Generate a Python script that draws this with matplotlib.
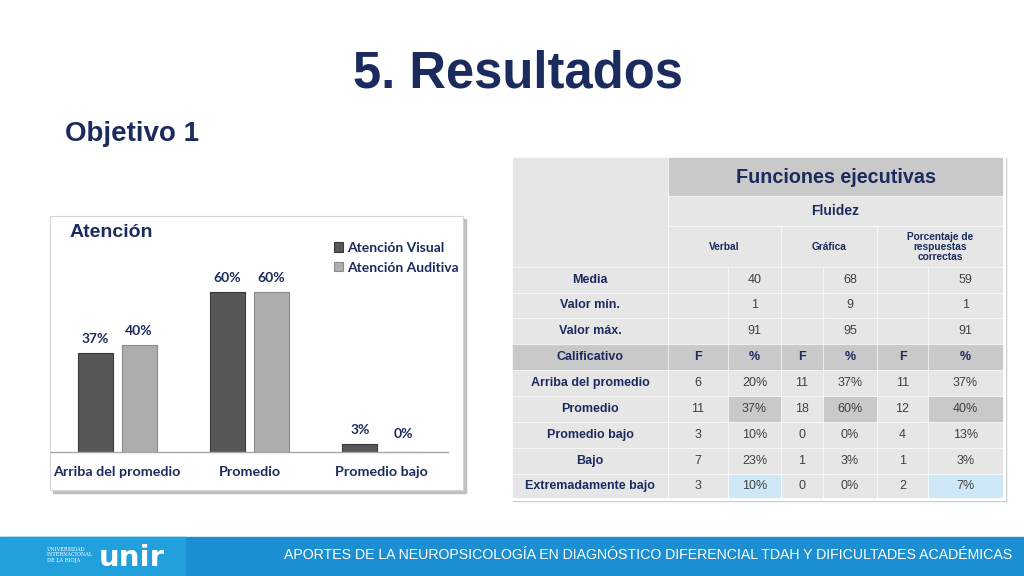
import matplotlib.pyplot as plt
from matplotlib.patches import Rectangle

# datos del grafico de barras
categorias = ["Arriba del promedio", "Promedio", "Promedio bajo"]
series = ["Atención Visual", "Atención Auditiva"]
visual = [37, 60, 3]
auditiva = [40, 60, 0]

# datos de la tabla
filas = ["Media", "Valor mín.", "Valor máx.", "Calificativo", "Arriba del promedio",
         "Promedio", "Promedio bajo", "Bajo", "Extremadamente bajo"]
media = ["", "40", "", "68", "", "59"]
valor_min = ["", "1", "", "9", "", "1"]
valor_max = ["", "91", "", "95", "", "91"]
calificativo = ["F", "%", "F", "%", "F", "%"]
arriba = ["6", "20%", "11", "37%", "11", "37%"]
promedio = ["11", "37%", "18", "60%", "12", "40%"]
promedio_bajo = ["3", "10%", "0", "0%", "4", "13%"]
bajo = ["7", "23%", "1", "3%", "1", "3%"]
extrem_bajo = ["3", "10%", "0", "0%", "2", "7%"]
subpruebas = ["Verbal", "Gráfica", "Porcentaje de\nrespuestas\ncorrectas"]

navy = "#1c2b5e"
oscuro = "#575757"
claro = "#adadad"

fig = plt.figure(figsize=(10.24, 5.76), dpi=100)
fig.patch.set_facecolor("white")

# capa de fondo en pixeles
bg = fig.add_axes([0, 0, 1, 1])
bg.set_xlim(0, 1024)
bg.set_ylim(576, 0)
bg.axis("off")

bg.text(353, 88, "5. Resultados", fontsize=36.5, fontweight="bold", color=navy,
        family="Liberation Sans", va="baseline", ha="left")
bg.text(65, 141, "Objetivo 1", fontsize=20, fontweight="bold", color=navy,
        family="Liberation Sans", va="baseline", ha="left")

# panel del grafico
bg.add_patch(Rectangle((53, 219), 413, 274, color="#bfbfbf", zorder=1))
bg.add_patch(Rectangle((50, 216), 413, 274, facecolor="white", edgecolor="#d4d4d4",
                       lw=0.8, zorder=2))
bg.text(70, 237, "Atención", fontsize=14, fontweight="bold", color=navy,
        family="Liberation Sans", va="baseline", zorder=3)

# tabla
col_x = [512, 668, 728, 781, 823, 877, 928, 1003]
row_y = [157, 196, 226, 267, 293, 318, 344, 370, 396, 422, 448, 474, 498]
base = "#e6e6e6"
gris = "#c9c9c9"
azul = "#cfe8f8"

bg.add_patch(Rectangle((513, 158), 493, 343, color="#c4c4c4", zorder=1))
bg.add_patch(Rectangle((510, 155), 495, 345, color="white", zorder=2))


def celda(x0, x1, y0, y1, color):
    bg.add_patch(Rectangle((x0 + 1, y0 + 1), x1 - x0 - 2, y1 - y0 - 2,
                           color=color, zorder=3))


def texto(x, y, s, size=9, bold=False, color=navy):
    bg.text(x, y, s, fontsize=size, fontweight="bold" if bold else "normal",
            color=color, family="Liberation Sans", ha="center", va="center",
            zorder=4, linespacing=1.0)


celda(col_x[0], col_x[1], row_y[0], row_y[3], base)
celda(col_x[1], col_x[7], row_y[0], row_y[1], gris)
texto((col_x[1] + col_x[7]) / 2, (row_y[0] + row_y[1]) / 2 + 1,
      "Funciones ejecutivas", size=14.2, bold=True)
celda(col_x[1], col_x[7], row_y[1], row_y[2], base)
texto((col_x[1] + col_x[7]) / 2, (row_y[1] + row_y[2]) / 2,
      "Fluidez", size=10, bold=True)
for k, nombre in enumerate(subpruebas):
    x0, x1 = col_x[1 + 2 * k], col_x[3 + 2 * k]
    celda(x0, x1, row_y[2], row_y[3], base)
    texto((x0 + x1) / 2, (row_y[2] + row_y[3]) / 2, nombre, size=7.3, bold=True)

cuerpo = [media, valor_min, valor_max, calificativo, arriba, promedio,
          promedio_bajo, bajo, extrem_bajo]
for i, (nombre, valores) in enumerate(zip(filas, cuerpo)):
    y0, y1 = row_y[3 + i], row_y[4 + i]
    yc = (y0 + y1) / 2
    cab = nombre == "Calificativo"
    celda(col_x[0], col_x[1], y0, y1, gris if cab else base)
    texto((col_x[0] + col_x[1]) / 2, yc, nombre, bold=True)
    for j, v in enumerate(valores):
        color = base
        if cab:
            color = gris
        elif nombre == "Promedio" and j % 2 == 1:
            color = gris
        elif nombre == "Extremadamente bajo" and j in (1, 5):
            color = azul
        celda(col_x[1 + j], col_x[2 + j], y0, y1, color)
        texto((col_x[1 + j] + col_x[2 + j]) / 2, yc, v, bold=cab,
              color=navy if cab else "#404040")

# pie de pagina
bg.add_patch(Rectangle((0, 537), 1024, 39, color="#1b8fd1", zorder=1))
bg.add_patch(Rectangle((0, 537), 185, 39, color="#22a0dc", zorder=1))
bg.text(1012, 559, "APORTES DE LA NEUROPSICOLOGÍA EN DIAGNÓSTICO DIFERENCIAL "
        "TDAH Y DIFICULTADES ACADÉMICAS", fontsize=10.2, color="white",
        family="Liberation Sans", ha="right", va="baseline", zorder=2)
bg.text(99, 566, "unir", fontsize=21, fontweight="bold", color="white",
        family="DejaVu Sans", ha="left", va="baseline", zorder=2)
bg.text(47, 555, "UNIVERSIDAD\nINTERNACIONAL\nDE LA RIOJA", fontsize=3.6,
        color="white", family="DejaVu Serif", ha="left", va="center",
        linespacing=1.1, zorder=2)

# grafico de barras
ax = fig.add_axes([51 / 1024, 1 - 452 / 576, 397 / 1024, 186.7 / 576])
ax.patch.set_alpha(0)
x = list(range(len(categorias)))
ancho = 0.264
desp = 0.166
b1 = ax.bar([p - desp for p in x], visual, ancho, color=oscuro,
            edgecolor="#383838", lw=0.8, label=series[0])
b2 = ax.bar([p + desp for p in x], auditiva, ancho, color=claro,
            edgecolor="#8a8a8a", lw=0.8, label=series[1])
for barras in (b1, b2):
    for r in barras:
        ax.annotate(f"{r.get_height():.0f}%",
                    (r.get_x() + r.get_width() / 2, r.get_height()),
                    xytext=(0, 7.5 if r.get_height() > 0 else 10),
                    textcoords="offset points", ha="center", va="baseline",
                    fontsize=10, fontweight="bold", color=navy, family="Lato")
ax.set_xlim(-0.5, 2.5)
ax.set_ylim(0, 70)
ax.set_yticks([])
ax.set_xticks(x)
ax.set_xticklabels(categorias, fontsize=10.3, fontweight="bold", color=navy,
                   family="Lato")
ax.tick_params(axis="x", length=0, pad=10)
for s in ("top", "left", "right"):
    ax.spines[s].set_visible(False)
ax.spines["bottom"].set_color("#a6a6a6")
ax.spines["bottom"].set_linewidth(1)

leg = ax.legend(loc="upper left", bbox_to_anchor=(327 / 1024, 1 - 235 / 576),
                bbox_transform=fig.transFigure, frameon=False, handlelength=0.65,
                handleheight=0.65, handletextpad=0.3, labelspacing=0.55,
                borderpad=0, prop={"family": "Lato", "weight": "bold", "size": 10})
for t in leg.get_texts():
    t.set_color(navy)

fig.savefig("out.png", dpi=100)
